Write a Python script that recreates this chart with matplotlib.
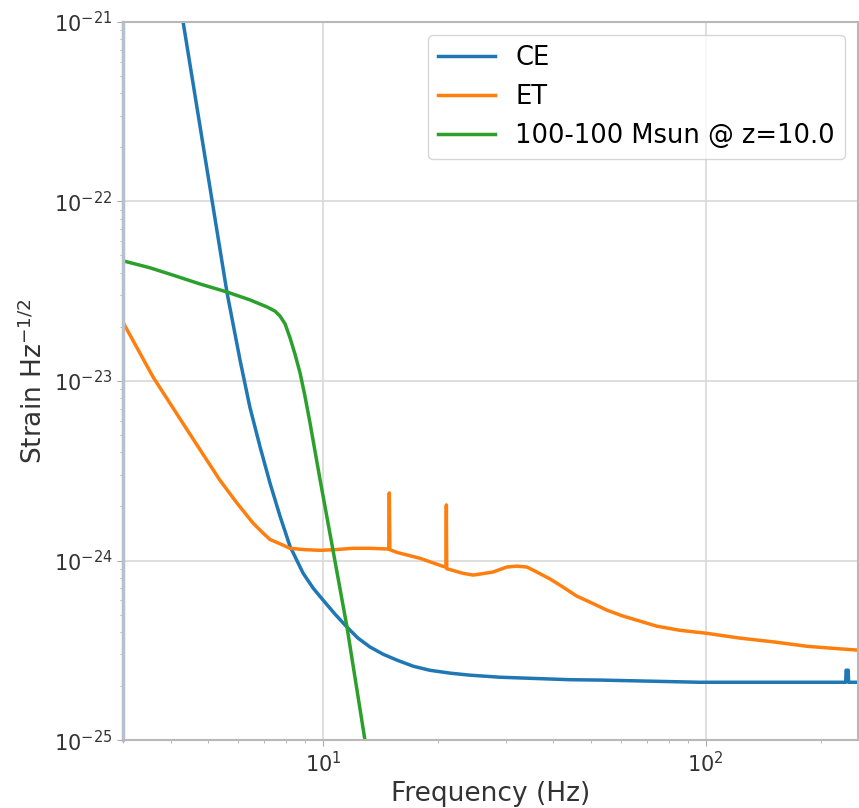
import matplotlib
matplotlib.use("Agg")
import matplotlib.pyplot as plt

# CE noise curve (Hz, strain/rtHz)
ce_f = [4.31, 5.61, 6.07, 6.44, 6.85, 7.27, 7.72, 8.2, 8.87, 9.42, 10.0, 10.75,
        11.55, 12.34, 13.27, 14.35, 15.6, 17.2, 19.0, 21.5, 24.2, 29.0, 34.7, 44.2, 52.8,
        71.4, 96.4, 176, 232, 232.5, 233, 235, 235.5, 236, 250]
ce_h = [1e-21, 3.13e-23, 1.31e-23, 7.16e-24, 4.29e-24, 2.70e-24, 1.77e-24, 1.20e-24,
        8.51e-25, 7.03e-25, 6.03e-25, 5.03e-25, 4.26e-25, 3.70e-25, 3.30e-25, 3.01e-25,
        2.79e-25, 2.58e-25, 2.45e-25, 2.36e-25, 2.30e-25, 2.24e-25, 2.21e-25, 2.17e-25,
        2.16e-25, 2.13e-25, 2.10e-25, 2.10e-25, 2.10e-25, 2.45e-25, 2.45e-25, 2.45e-25,
        2.45e-25, 2.10e-25, 2.10e-25]

# ET noise curve
et_f = [3.0, 3.6, 4.42, 5.38, 5.96, 6.56, 6.93, 7.27, 7.72, 8.2, 8.97, 9.82, 10.75, 11.97,
        13.27, 14.7, 14.85, 14.9, 14.95, 15.6, 17.9, 20.5, 20.9, 20.95, 21.0, 21.05, 21.7,
        23.1, 24.7, 27.8, 30.2, 32.1, 34.1, 36.2, 39.2, 42.4, 46.0, 49.8, 55.1, 60.7, 67.3,
        74.5, 85.5, 100, 122.7, 151, 184, 217, 250]
et_h = [2.13e-23, 1.05e-23, 5.33e-24, 2.8e-24, 2.09e-24, 1.62e-24, 1.44e-24, 1.31e-24,
        1.24e-24, 1.17e-24, 1.15e-24, 1.14e-24, 1.15e-24, 1.17e-24, 1.17e-24, 1.16e-24,
        1.16e-24, 2.38e-24, 1.15e-24, 1.11e-24, 1.03e-24, 9.31e-25, 9.2e-25, 9.2e-25,
        2.04e-24, 9.0e-25, 8.85e-25, 8.51e-25, 8.3e-25, 8.63e-25, 9.2e-25, 9.31e-25,
        9.2e-25, 8.63e-25, 7.89e-25, 7.11e-25, 6.34e-25, 5.87e-25, 5.3e-25, 4.91e-25,
        4.60e-25, 4.31e-25, 4.09e-25, 3.94e-25, 3.70e-25, 3.52e-25, 3.33e-25, 3.24e-25,
        3.17e-25]

# 100-100 Msun binary at z=10
bbh_f = [3.0, 3.53, 4.11, 4.77, 5.61, 6.44, 7.15, 7.49, 7.72, 7.96, 8.2, 8.45, 8.71, 8.97,
         9.25, 9.53, 9.82, 10.56, 11.55, 12.87, 13.27]
bbh_h = [4.67e-23, 4.27e-23, 3.85e-23, 3.47e-23, 3.13e-23, 2.83e-23, 2.58e-23, 2.45e-23,
         2.30e-23, 2.08e-23, 1.74e-23, 1.41e-23, 1.11e-23, 8.25e-24, 5.83e-24, 4.07e-24,
         2.84e-24, 1.22e-24, 4.27e-25, 1e-25, 6.8e-26]

y_ticks = [1e-25, 1e-24, 1e-23, 1e-22, 1e-21]
x_ticks = [10, 100]

fig = plt.figure(figsize=(8.59, 8.08), dpi=100)
ax = fig.add_axes([0.143, 0.084, 0.856, 0.889])

ax.loglog(ce_f, ce_h, color='#1f77b4', lw=2.5, label='CE')
ax.loglog(et_f, et_h, color='#ff7f0e', lw=2.5, label='ET')
ax.loglog(bbh_f, bbh_h, color='#2ca02c', lw=2.5, label='100-100 Msun @ z=10.0')

ax.set_xlim(3, 250)
ax.set_ylim(1e-25, 1e-21)
ax.set_yticks(y_ticks)
ax.set_xticks(x_ticks)
ax.grid(True, which='major', color='#d8d8d8', lw=1.2)
for s in ax.spines.values():
    s.set_color('#b8b8b8')
    s.set_linewidth(1.5)
ax.spines['left'].set_color('#b4c0cc')
ax.spines['left'].set_linewidth(2.5)
ax.tick_params(which='both', colors='#aaaaaa', labelcolor='#333333', labelsize=15)
ax.tick_params(which='major', length=4)
ax.tick_params(which='minor', length=2.5)

ax.set_xlabel('Frequency (Hz)', fontsize=19, color='#333333')
ax.set_ylabel('Strain Hz$^{-1/2}$', fontsize=19, color='#333333')
ax.legend(loc='upper right', fontsize=18.5, handlelength=2.2, borderpad=0.4)

fig.savefig('out.png', dpi=100)
